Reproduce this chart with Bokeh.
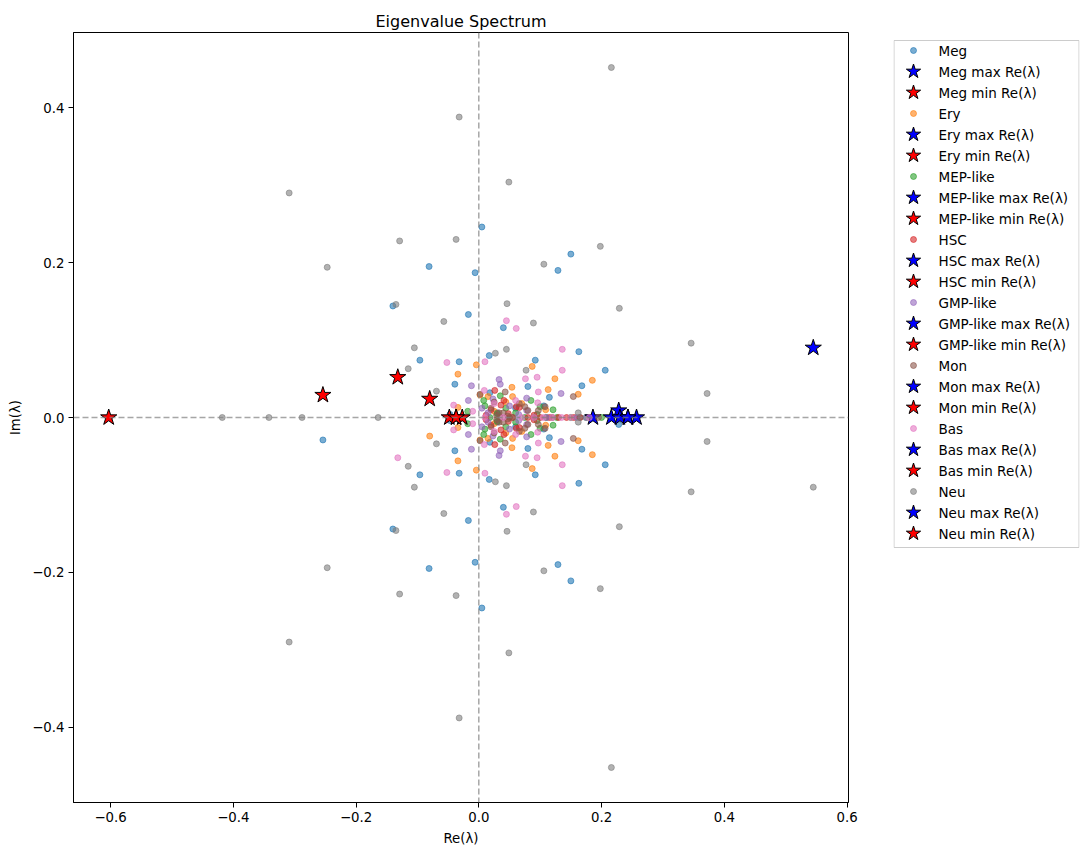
import numpy as np
from bokeh.plotting import figure
from bokeh.layouts import row
from bokeh.models import Span, FixedTicker, CustomJSTickFormatter, Range1d, ColumnDataSource
from bokeh.core.properties import value
from bokeh.embed import file_html
from bokeh.resources import INLINE

# ---- data: eigenvalues with Im >= 0 (each Im > 0 value also has its complex conjugate) ----
groups = ["Meg", "Ery", "MEP-like", "HSC", "GMP-like", "Mon", "Bas", "Neu"]
colors = ["#1f77b4", "#ff7f0e", "#2ca02c", "#d62728", "#9467bd", "#8c564b", "#e377c2", "#7f7f7f"]

meg_re = [0.005, 0.150, 0.129, -0.006, -0.081, -0.140, -0.017, 0.040, 0.163, 0.017, -0.096, -0.032, 0.092,
          0.206, -0.039, 0.168, 0.080, 0.018, 0.115, 0.106, -0.254, 0.228, -0.047, 0.060, 0.030]
meg_im = [0.246, 0.211, 0.190, 0.187, 0.195, 0.144, 0.133, 0.116, 0.085, 0.080, 0.074, 0.072, 0.074,
          0.061, 0.043, 0.041, 0.040, 0.032, 0.026, 0.015, 0.029, 0.009, 0.004, 0.012, 0.006]

ery_re = [-0.004, 0.087, -0.034, 0.124, 0.185, 0.054, 0.113, 0.162, -0.080, 0.044, -0.034, 0.002, 0.015,
          0.055, 0.109, 0.070, 0.025, 0.257]
ery_im = [0.068, 0.066, 0.056, 0.050, 0.048, 0.039, 0.036, 0.030, 0.024, 0.020, 0.013, 0.029, 0.027,
          0.027, 0.010, 0.018, 0.008, 0.0]

mep_re = [0.008, 0.044, 0.085, 0.121, -0.018, 0.018, 0.127, 0.060, 0.100, 0.035, 0.216, -0.027, 0.075,
          0.150, 0.050, 0.010, 0.095, 0.110, 0.175, 0.200, 0.030]
mep_im = [0.022, 0.012, 0.022, 0.010, 0.008, 0.0, 0.0, 0.006, 0.014, 0.028, 0.0, 0.0, 0.0,
          0.0, 0.0, 0.015, 0.004, 0.0, 0.0, 0.0, 0.005]

hsc_re = [0.026, 0.041, 0.066, 0.061, 0.020, 0.100, 0.143, 0.048, 0.012, 0.080, 0.115, 0.036, 0.243, -0.037,
          0.130, 0.155, 0.165, 0.090, 0.055]
hsc_im = [0.035, 0.022, 0.013, 0.014, 0.010, 0.0, 0.0, 0.005, 0.003, 0.0, 0.0, 0.016, 0.0, 0.0,
          0.0, 0.0, 0.0, 0.003, 0.0]

gmp_re = [0.033, 0.035, -0.012, 0.134, 0.078, -0.017, 0.023, 0.078, 0.175, 0.050, 0.005, 0.186, -0.048,
          0.110, 0.160, 0.065, 0.015]
gmp_im = [0.049, 0.043, 0.041, 0.031, 0.009, 0.022, 0.024, 0.025, 0.0, 0.015, 0.012, 0.0, 0.0,
          0.0, 0.0, 0.004, 0.006]

mon_re = [0.154, 0.043, 0.002, 0.066, 0.080, 0.029, 0.097, 0.108, 0.075, 0.020, 0.040, 0.055, 0.035,
          0.230, -0.037, 0.025, 0.090, 0.120, 0.165, 0.195, 0.033, 0.047]
mon_im = [0.027, 0.033, 0.030, 0.018, 0.009, 0.003, 0.009, 0.014, 0.014, 0.012, 0.006, 0.0, 0.0,
          0.0, 0.0, 0.020, 0.0, 0.0, 0.0, 0.0, 0.006, 0.002]

bas_re = [0.045, 0.061, 0.136, -0.052, 0.010, 0.136, 0.095, 0.076, 0.097, -0.132, 0.009, -0.041, 0.060,
          0.025, -0.010, 0.070, 0.120, 0.010, 0.040, 0.090, 0.150, 0.096, 0.243, 0.105, 0.135, 0.180]
bas_im = [0.125, 0.115, 0.088, 0.071, 0.072, 0.061, 0.052, 0.050, 0.033, 0.052, 0.035, 0.016, 0.022,
          0.018, 0.008, 0.0, 0.0, 0.0, 0.0, 0.0, 0.0, 0.019, 0.0, 0.0, 0.0, 0.0]

neu_re = [0.216, -0.032, -0.309, 0.049, -0.129, -0.037, 0.198, 0.106, -0.247, -0.135, 0.229, 0.046, -0.057,
          0.089, -0.105, 0.346, 0.045, 0.027, -0.115, 0.077, -0.069, 0.372, 0.162, -0.418, -0.342, -0.288,
          -0.164, -0.603, 0.545]
neu_im = [0.452, 0.388, 0.290, 0.304, 0.228, 0.230, 0.221, 0.198, 0.194, 0.146, 0.141, 0.147, 0.124,
          0.122, 0.090, 0.096, 0.088, 0.083, 0.063, 0.061, 0.034, 0.031, 0.006, 0.0, 0.0, 0.0,
          0.0, 0.0, 0.090]

x_ticks = [-0.6, -0.4, -0.2, 0.0, 0.2, 0.4, 0.6]
y_ticks = [-0.4, -0.2, 0.0, 0.2, 0.4]

series = [(meg_re, meg_im), (ery_re, ery_im), (mep_re, mep_im), (hsc_re, hsc_im),
          (gmp_re, gmp_im), (mon_re, mon_im), (bas_re, bas_im), (neu_re, neu_im)]


def with_conjugates(re, im):
    re = np.asarray(re, float)
    im = np.asarray(im, float)
    cpx = im > 0
    return np.concatenate([re, re[cpx]]), np.concatenate([im, -im[cpx]])


all_x, all_y = [], []
for re, im in series:
    xr, yi = with_conjugates(re, im)
    all_x.append(xr)
    all_y.append(yi)
all_x = np.concatenate(all_x)
all_y = np.concatenate(all_y)
xpad = 0.05 * (all_x.max() - all_x.min())
ypad = 0.05 * (all_y.max() - all_y.min())

FONT = "DejaVu Sans"
TOPB, BOTB = 32, 53

# ---------------- main plot ----------------
p = figure(width=893, height=855, output_backend="svg", toolbar_location=None,
           x_range=Range1d(all_x.min() - xpad, all_x.max() + xpad),
           y_range=Range1d(all_y.min() - ypad, all_y.max() + ypad),
           min_border_left=73, min_border_right=45, min_border_top=TOPB, min_border_bottom=BOTB,
           title="Eigenvalue Spectrum")

p.title.align = "center"
p.title.text_font = FONT
p.title.text_font_size = "16px"
p.title.text_font_style = "normal"
p.title.text_color = "black"
p.title.standoff = 4

p.xgrid.visible = False
p.ygrid.visible = False
p.outline_line_color = "black"
p.outline_line_width = 1
p.outline_line_alpha = 1

fmt = CustomJSTickFormatter(code="return tick.toFixed(1).replace('-', '\\u2212');")
for ax, ticks, label in [(p.xaxis[0], x_ticks, "Re(λ)"), (p.yaxis[0], y_ticks, "Im(λ)")]:
    ax.ticker = FixedTicker(ticks=ticks)
    ax.formatter = fmt
    ax.minor_tick_line_color = None
    ax.major_tick_in = 0
    ax.major_tick_out = 5
    ax.major_tick_line_color = "black"
    ax.axis_line_color = "black"
    ax.major_label_text_font = FONT
    ax.major_label_text_font_size = "13.3px"
    ax.major_label_text_color = "black"
    ax.major_label_standoff = 4
    ax.axis_label = label
    ax.axis_label_text_font = FONT
    ax.axis_label_text_font_size = "13.3px"
    ax.axis_label_text_font_style = "normal"
    ax.axis_label_text_color = "black"
    ax.axis_label_standoff = 6

DOT = dict(marker="circle", size=6, fill_alpha=0.6, line_alpha=0.6)
STAR = dict(marker="star", size=17, line_color="black", line_width=1)

leg_labels, leg_kind, leg_color = [], [], []
for name, color, (re, im) in zip(groups, colors, series):
    xr, yi = with_conjugates(re, im)
    src = ColumnDataSource(dict(x=xr, y=yi))
    p.scatter("x", "y", source=src, fill_color=color, line_color=color, **DOT)
    imax = int(np.argmax(re))
    imin = int(np.argmin(re))
    p.scatter(x=[re[imax]], y=[im[imax]], fill_color="blue", **STAR)
    p.scatter(x=[re[imin]], y=[im[imin]], fill_color="red", **STAR)
    leg_labels += [name, f"{name} max Re(λ)", f"{name} min Re(λ)"]
    leg_kind += ["dot", "max", "min"]
    leg_color += [color, "blue", "red"]

p.add_layout(Span(location=0, dimension="height", line_color="gray", line_alpha=0.7,
                  line_width=1.5, line_dash="6 3"))
p.add_layout(Span(location=0, dimension="width", line_color="gray", line_alpha=0.7,
                  line_width=1.5, line_dash="6 3"))

# ---------------- legend panel (pixel coordinates, frame aligned with main plot) ----------------
LW, FH = 186, 855 - TOPB - BOTB
BOX_TOP, BOX_BOTTOM, PITCH, FIRST = 8, 515, 21, 18
lg = figure(width=LW + 9, height=855, output_backend="svg", toolbar_location=None,
            x_range=Range1d(0, LW), y_range=Range1d(0, FH),
            x_axis_type=None, y_axis_type=None,
            min_border_left=0, min_border_right=9, min_border_top=TOPB, min_border_bottom=BOTB)
lg.xgrid.visible = False
lg.ygrid.visible = False
lg.outline_line_color = None
lg.quad(left=[0.5], right=[LW - 0.5], top=[FH - BOX_TOP], bottom=[FH - BOX_BOTTOM],
        fill_color="white", line_color="#cccccc", line_width=1)

rows_y = [FH - FIRST - PITCH * i for i in range(len(leg_labels))]
dot_idx = [i for i, k in enumerate(leg_kind) if k == "dot"]
star_idx = [i for i, k in enumerate(leg_kind) if k != "dot"]
lg.scatter(x=[20] * len(dot_idx), y=[rows_y[i] for i in dot_idx],
           fill_color=[leg_color[i] for i in dot_idx], line_color=[leg_color[i] for i in dot_idx], **DOT)
lg.scatter(x=[20] * len(star_idx), y=[rows_y[i] for i in star_idx], marker="star", size=15,
           fill_color=[leg_color[i] for i in star_idx], line_color="black", line_width=1)
lg.text(x=[45] * len(leg_labels), y=rows_y, text=leg_labels, text_font=value(FONT),
        text_font_size="13.5px", text_baseline="middle", text_align="left", text_color="black")

layout = row(p, lg, spacing=0)
open("out.html", "w").write(file_html(layout, INLINE))
